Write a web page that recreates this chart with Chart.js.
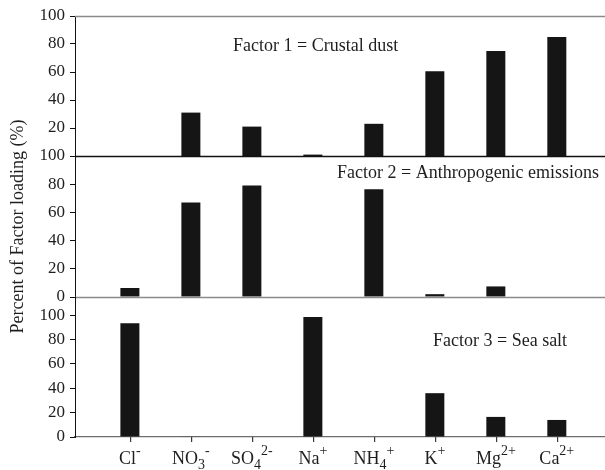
<!DOCTYPE html>
<html>
<head>
<meta charset="utf-8">
<script src="https://cdn.jsdelivr.net/npm/chart.js@4.4.1/dist/chart.umd.min.js"></script>
<style>
  html, body { margin: 0; padding: 0; background: #fff; }
  #wrap { position: relative; width: 605px; height: 470px; }
  #wrap > div { position: absolute; left: 0; top: 0; width: 605px; height: 470px; }
</style>
</head>
<body>
<div id="wrap">
  <div><canvas id="panel1"></canvas></div>
  <div><canvas id="panel2"></canvas></div>
  <div><canvas id="panel3"></canvas></div>
</div>
<script>
// Ions on the x axis ("_" = subscript, "^" = charge superscript)
const categories = ['Cl^-', 'NO_3^-', 'SO_4^2-', 'Na^+', 'NH_4^+', 'K^+', 'Mg^2+', 'Ca^2+'];

// Factor loadings (%) per ion
const crustalDust   = [0, 31, 21, 1, 23, 60.5, 75, 85];
const anthropogenic = [6.4, 67, 79, 0, 76.5, 2, 7.5, 0];
const seaSalt       = [93.5, 0.5, 0, 98.5, 0, 36, 16.5, 14];

const panelTitles = ['Factor 1 = Crustal dust', 'Factor 2 = Anthropogenic emissions', 'Factor 3 = Sea salt'];
const yTicksTop    = [20, 40, 60, 80, 100];
const yTicksMiddle = [0, 20, 40, 60, 80, 100];
const yTicksBottom = [0, 20, 40, 60, 80, 100];
const yAxisTitle = 'Percent of Factor loading (%)';

const SERIF = "'Liberation Serif', 'Times New Roman', serif";
const TEXT = '#1e1e1e';
const BAR = '#151515';

// split "NO_3^-" into [['NO','base'],['3','sub'],['-','sup']]
function parseIon(label) {
  const parts = [];
  const re = /([^_^]+)|_([^_^]+)|\^([^_^]+)/g;
  let m;
  while ((m = re.exec(label)) !== null) {
    if (m[1]) parts.push([m[1], 'base']);
    else if (m[2]) parts.push([m[2], 'sub']);
    else parts.push([m[3], 'sup']);
  }
  return parts;
}

// category tick marks and chemical-formula labels under the bottom panel
const ionLabelPlugin = {
  id: 'ionLabels',
  afterDraw(chart) {
    const ctx = chart.ctx;
    const xs = chart.scales.x;
    const bottom = chart.chartArea.bottom;
    const baseFont = '18px ' + SERIF;
    const smallFont = '14px ' + SERIF;
    const baseline = bottom + 27;
    ctx.save();
    ctx.fillStyle = '#3a3a3a';
    categories.forEach((lab, i) => {
      const px = Math.round(xs.getPixelForValue(i));
      ctx.fillRect(px, bottom, 1.2, 5);
    });
    ctx.fillStyle = TEXT;
    ctx.textBaseline = 'alphabetic';
    ctx.textAlign = 'left';
    categories.forEach((lab, i) => {
      const parts = parseIon(lab);
      let total = 0;
      const widths = parts.map(([t, k]) => {
        ctx.font = k === 'base' ? baseFont : smallFont;
        const w = ctx.measureText(t).width;
        total += w;
        return w;
      });
      let x = xs.getPixelForValue(i) - total / 2;
      parts.forEach(([t, k], j) => {
        ctx.font = k === 'base' ? baseFont : smallFont;
        const dy = k === 'sub' ? 5 : (k === 'sup' ? -9 : 0);
        ctx.fillText(t, x, baseline + dy);
        x += widths[j];
      });
    });
    ctx.restore();
  }
};

function makePanel(id, values, cfg) {
  const decor = {
    id: 'panelDecor',
    afterDatasetsDraw(chart) {
      const { ctx, chartArea: a } = chart;
      ctx.save();
      if (cfg.topLine) {
        ctx.strokeStyle = cfg.topLine;
        ctx.lineWidth = 1.4;
        ctx.beginPath();
        ctx.moveTo(a.left, a.top + 0.5);
        ctx.lineTo(a.right, a.top + 0.5);
        ctx.stroke();
      }
      if (cfg.bottomLine) {
        ctx.strokeStyle = cfg.bottomLine;
        ctx.lineWidth = 1.3;
        ctx.beginPath();
        ctx.moveTo(a.left, a.bottom + 0.5);
        ctx.lineTo(a.right, a.bottom + 0.5);
        ctx.stroke();
      }
      ctx.fillStyle = TEXT;
      ctx.font = '18px ' + SERIF;
      ctx.textAlign = 'left';
      ctx.textBaseline = 'alphabetic';
      ctx.fillText(cfg.title, a.left + cfg.titleDx, a.top + cfg.titleDy);
      ctx.restore();
    }
  };

  const xAxis = {
    type: 'linear',
    min: -0.9,
    max: 7.79,
    offset: false,
    display: cfg.showX,
    afterBuildTicks: s => { s.ticks = categories.map((c, i) => ({ value: i })); },
    grid: { offset: false, drawOnChartArea: false, drawTicks: false },
    border: { display: true, color: '#6e6e6e', width: 1.3 },
    ticks: { display: false }
  };
  if (cfg.showX) xAxis.afterFit = s => { s.height = 33; };

  const plugins = [decor];
  if (cfg.showX) plugins.push(ionLabelPlugin);

  return new Chart(document.getElementById(id), {
    type: 'bar',
    data: {
      datasets: [{
        data: values.map((v, i) => ({ x: i, y: v })),
        backgroundColor: BAR,
        borderWidth: 0,
        inflateAmount: 0,
        barThickness: 19
      }]
    },
    options: {
      responsive: true,
      maintainAspectRatio: false,
      animation: false,
      layout: { padding: { top: cfg.padTop, bottom: cfg.padBottom, left: 0, right: 0 } },
      plugins: { legend: { display: false }, tooltip: { enabled: false } },
      scales: {
        x: xAxis,
        y: {
          min: 0,
          max: cfg.yMax,
          afterBuildTicks: s => { s.ticks = cfg.yTicks.map(v => ({ value: v })); },
          afterFit: s => { s.width = 75; },
          grid: { drawOnChartArea: false, drawTicks: true, tickLength: 5, color: '#111', lineWidth: 1 },
          border: { display: true, color: '#111', width: 1 },
          ticks: { font: { family: SERIF, size: 17 }, color: TEXT, padding: 5 },
          title: {
            display: cfg.showYTitle,
            text: yAxisTitle,
            font: { family: SERIF, size: 18 },
            color: TEXT,
            padding: { top: 7, bottom: 0 }
          }
        }
      }
    },
    plugins
  });
}

makePanel('panel1', crustalDust, {
  padTop: 16, padBottom: 314, yMax: 100, yTicks: yTicksTop,
  showX: false, showYTitle: false,
  topLine: '#8a8a8a', bottomLine: '#111',
  title: panelTitles[0], titleDx: 158, titleDy: 35
});

makePanel('panel2', anthropogenic, {
  padTop: 156, padBottom: 173, yMax: 100, yTicks: yTicksMiddle,
  showX: false, showYTitle: true,
  topLine: null, bottomLine: '#8a8a8a',
  title: panelTitles[1], titleDx: 262, titleDy: 22
});

makePanel('panel3', seaSalt, {
  padTop: 297, padBottom: 0, yMax: 115, yTicks: yTicksBottom,
  showX: true, showYTitle: false,
  topLine: null, bottomLine: null,
  title: panelTitles[2], titleDx: 358, titleDy: 49
});
</script>
</body>
</html>
